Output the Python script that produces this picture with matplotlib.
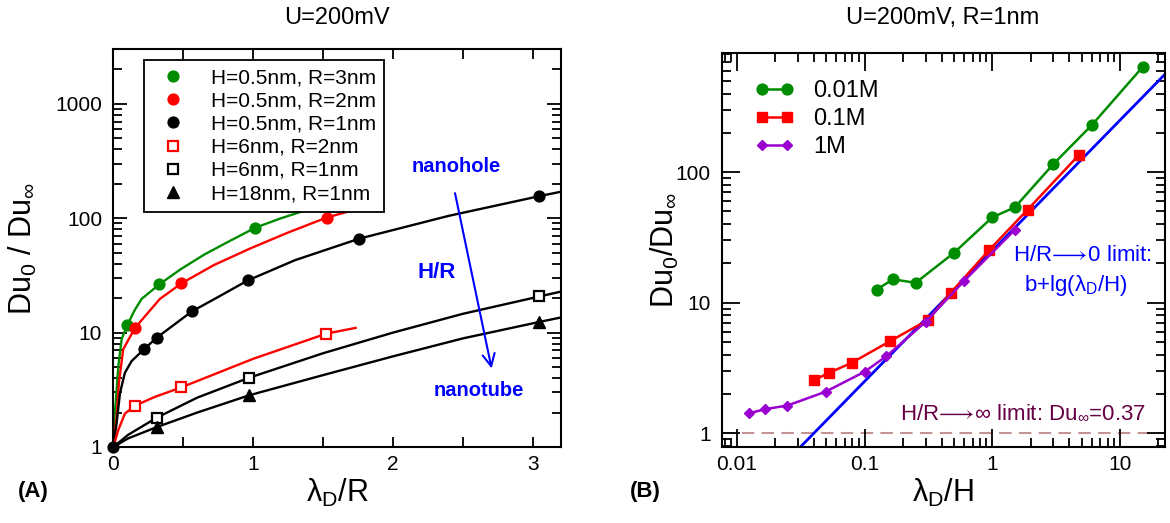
import matplotlib
matplotlib.use('Agg')
import matplotlib.pyplot as plt
from matplotlib.lines import Line2D
from matplotlib.ticker import FixedLocator, NullFormatter, LogLocator, FixedFormatter

plt.rcParams['font.family'] = ['Liberation Sans', 'DejaVu Sans']
plt.rcParams['mathtext.fontset'] = 'custom'
plt.rcParams['mathtext.rm'] = 'Liberation Sans'
plt.rcParams['mathtext.it'] = 'Liberation Sans:italic'
plt.rcParams['mathtext.bf'] = 'Liberation Sans:bold'
plt.rcParams['mathtext.fallback'] = 'stixsans'

# ---------------- Panel A data (lambda_D/R vs Du0/Duinf) ----------------
labels_A = ["H=0.5nm, R=3nm", "H=0.5nm, R=2nm", "H=0.5nm, R=1nm",
            "H=6nm, R=2nm", "H=6nm, R=1nm", "H=18nm, R=1nm"]

# symbols
g05r3_x = [0.10, 0.329, 1.017]
g05r3_y = [11.6, 26.4, 82.8]
r05r2_x = [0.155, 0.486, 1.526]
r05r2_y = [11.0, 26.9, 101.4]
b05r1_x = [0.0, 0.222, 0.309, 0.561, 0.962, 1.759, 3.047]
b05r1_y = [1.0, 7.2, 9.0, 15.3, 28.6, 66.3, 156.0]
r6r2_x = [0.155, 0.486, 1.524]
r6r2_y = [2.3, 3.32, 9.8]
b6r1_x = [0.309, 0.971, 3.047]
b6r1_y = [1.8, 4.03, 20.7]
b18r1_x = [0.309, 0.971, 3.047]
b18r1_y = [1.49, 2.83, 12.4]

# fitted curves
fit_g05r3_x = [0, 0.008, 0.019, 0.036, 0.060, 0.10, 0.15, 0.202, 0.329, 0.48, 0.65, 0.82, 1.017, 1.2, 1.4, 1.574, 1.8]
fit_g05r3_y = [1, 1.8, 2.6, 5.1, 8.8, 11.6, 15.5, 19.7, 26.4, 35.7, 48.1, 62.1, 82.8, 100, 120, 138, 165]
fit_r05r2_x = [0, 0.012, 0.024, 0.040, 0.071, 0.155, 0.333, 0.486, 0.72, 0.979, 1.25, 1.526, 1.92]
fit_r05r2_y = [1, 1.35, 1.85, 3.64, 7.16, 11.0, 19.7, 26.9, 39, 54.4, 75, 101.4, 138]
fit_b05r1_x = [0, 0.012, 0.024, 0.048, 0.083, 0.131, 0.222, 0.309, 0.561, 0.75, 0.962, 1.3, 1.759, 2.4, 3.047, 3.206]
fit_b05r1_y = [1, 1.3, 1.62, 2.97, 4.46, 5.64, 7.2, 9.0, 15.3, 20.5, 28.6, 43, 66.3, 105, 156, 171]
fit_r6r2_x = [0, 0.036, 0.083, 0.155, 0.3, 0.486, 1.0, 1.524, 1.733]
fit_r6r2_y = [1, 1.41, 1.96, 2.3, 2.75, 3.32, 5.9, 9.8, 11.0]
fit_b6r1_x = [0, 0.107, 0.309, 0.6, 0.971, 1.5, 2.0, 2.5, 3.047, 3.206]
fit_b6r1_y = [1, 1.28, 1.8, 2.7, 4.03, 6.6, 10.0, 14.6, 20.7, 22.9]
fit_b18r1_x = [0, 0.107, 0.309, 0.6, 0.971, 1.5, 2.0, 2.5, 3.047, 3.206]
fit_b18r1_y = [1, 1.19, 1.49, 2.0, 2.83, 4.25, 6.2, 8.9, 12.4, 13.6]

# ---------------- Panel B data (lambda_D/H) ----------------
labels_B = ["0.01M", "0.1M", "1M"]
c001_x = [0.124, 0.167, 0.251, 0.501, 1.0, 1.50, 3.0, 6.03, 15.0]
c001_y = [12.6, 15.1, 14.2, 24.1, 45.1, 53.7, 115, 230, 637]
c01_x = [0.040, 0.0525, 0.079, 0.158, 0.316, 0.472, 0.948, 1.89, 4.79]
c01_y = [2.55, 2.90, 3.46, 5.07, 7.42, 11.9, 25.4, 51.6, 136]
c1_x = [0.0124, 0.0166, 0.0248, 0.0494, 0.100, 0.148, 0.300, 0.598, 1.50]
c1_y = [1.42, 1.53, 1.63, 2.08, 2.96, 3.89, 7.12, 14.6, 36.1]
limit0_x = [0.03, 23.0]
limit0_y = [0.75, 575.0]
limit_inf_y = 1.0

GREEN = '#008c00'
RED = '#ff0000'
PURPLE = '#9a00d0'
BLUE = '#0000ff'

W, H = 1170, 523
fig = plt.figure(figsize=(W / 100, H / 100), dpi=100)
axA = fig.add_axes([113.3 / W, 1 - 447 / H, (560.7 - 113.3) / W, (447 - 49.3) / H])
axB = fig.add_axes([721.7 / W, 1 - 447 / H, (1165 - 721.7) / W, (447 - 53.3) / H])

# ---------------- Panel A ----------------
lw = 1.7
axA.plot(fit_g05r3_x, fit_g05r3_y, color=GREEN, lw=lw, zorder=2)
axA.plot(fit_r05r2_x, fit_r05r2_y, color=RED, lw=lw, zorder=2)
axA.plot(fit_b05r1_x, fit_b05r1_y, color='black', lw=lw, zorder=2)
axA.plot(fit_r6r2_x, fit_r6r2_y, color=RED, lw=lw, zorder=2)
axA.plot(fit_b6r1_x, fit_b6r1_y, color='black', lw=lw, zorder=2)
axA.plot(fit_b18r1_x, fit_b18r1_y, color='black', lw=lw, zorder=2)

ms_c = 7.8
styles = [
    dict(marker='o', color=GREEN, ms=ms_c, ls='none'),
    dict(marker='o', color=RED, ms=ms_c, ls='none'),
    dict(marker='o', color='black', ms=ms_c, ls='none'),
    dict(marker='s', mfc='white', mec=RED, ms=6.5, mew=1.6, ls='none'),
    dict(marker='s', mfc='white', mec='black', ms=6.5, mew=1.6, ls='none'),
    dict(marker='^', color='black', ms=8.5, ls='none'),
]
data_A = [(g05r3_x, g05r3_y), (r05r2_x, r05r2_y), (b05r1_x, b05r1_y),
          (r6r2_x, r6r2_y), (b6r1_x, b6r1_y), (b18r1_x, b18r1_y)]
for (xs, ys), st in zip(data_A, styles):
    axA.plot(xs, ys, zorder=3, clip_on=False, **st)

axA.set_yscale('log')
axA.set_xlim(0, 3.2)
axA.set_ylim(1, 3000)
axA.xaxis.set_major_locator(FixedLocator([0, 1, 2, 3]))
axA.xaxis.set_minor_locator(FixedLocator([0.5, 1.5, 2.5]))
axA.yaxis.set_major_locator(FixedLocator([1, 10, 100, 1000]))
axA.yaxis.set_major_formatter(FixedFormatter(['1', '10', '100', '1000']))
axA.yaxis.set_minor_locator(LogLocator(base=10, subs=range(2, 10), numticks=20))
axA.yaxis.set_minor_formatter(NullFormatter())
axA.tick_params(axis='both', which='both', direction='in', top=True, right=True, width=1.3)
axA.tick_params(axis='x', which='both', length=7.5, pad=6, labelsize=15)
axA.tick_params(axis='y', which='major', length=10, pad=8, labelsize=15)
axA.tick_params(axis='y', which='minor', length=6.5)
for s in axA.spines.values():
    s.set_linewidth(1.5)

handles = [Line2D([], [], **st) for st in styles]
legA = axA.legend(handles, labels_A, loc='upper left',
                  bbox_to_anchor=((143.7 - 113.3) / 447.4, (447 - 60) / 397.7),
                  borderaxespad=0, fontsize=15, frameon=True, fancybox=False,
                  edgecolor='black', framealpha=1, handlelength=2.0,
                  handletextpad=0.83, labelspacing=0.2, borderpad=0.4, numpoints=1)
legA.get_frame().set_linewidth(1.3)
legA.set_zorder(5)

axA.text(2.45, 281, 'nanohole', color=BLUE, fontweight='bold', fontsize=14.5, ha='center', va='center')
axA.text(2.315, 33.8, 'H/R', color=BLUE, fontweight='bold', fontsize=16, ha='center', va='center')
axA.text(2.615, 3.14, 'nanotube', color=BLUE, fontweight='bold', fontsize=14.5, ha='center', va='center')
axA.annotate('', xy=(2.71, 4.6), xytext=(2.44, 175),
             arrowprops=dict(arrowstyle='->', color=BLUE, lw=1.5, mutation_scale=22))

axA.set_xlabel(r'λ$_{\rm D}$/R', fontsize=22)
axA.set_ylabel(r'Du$_0$ / Du$_\infty$', fontsize=22)
axA.xaxis.set_label_coords(0.5, -0.075)
axA.yaxis.set_label_coords(-0.165, 0.5)

# ---------------- Panel B ----------------
axB.set_xscale('log')
axB.set_yscale('log')
axB.plot(limit0_x, limit0_y, color=BLUE, lw=2.0, zorder=2)
axB.axhline(limit_inf_y, color='#c49494', lw=1.5, ls=(0, (6, 3.5)), zorder=1)
axB.plot(c001_x, c001_y, '-o', color=GREEN, lw=1.8, ms=7.8, zorder=3, label=labels_B[0])
axB.plot(c01_x, c01_y, '-s', color=RED, lw=1.8, ms=7, zorder=3, label=labels_B[1])
axB.plot(c1_x, c1_y, '-D', color=PURPLE, lw=1.8, ms=5.5, zorder=3, label=labels_B[2])

axB.set_xlim(0.0076, 22.5)
axB.set_ylim(0.785, 813)
axB.xaxis.set_major_locator(FixedLocator([0.01, 0.1, 1, 10]))
axB.xaxis.set_major_formatter(FixedFormatter(['0.01', '0.1', '1', '10']))
axB.xaxis.set_minor_locator(LogLocator(base=10, subs=range(2, 10), numticks=20))
axB.xaxis.set_minor_formatter(NullFormatter())
axB.yaxis.set_major_locator(FixedLocator([1, 10, 100]))
axB.yaxis.set_major_formatter(FixedFormatter(['1', '10', '100']))
axB.yaxis.set_minor_locator(LogLocator(base=10, subs=range(2, 10), numticks=20))
axB.yaxis.set_minor_formatter(NullFormatter())
axB.tick_params(axis='both', which='both', direction='in', top=True, right=True, width=1.3)
axB.tick_params(axis='both', which='major', length=13, labelsize=15)
axB.tick_params(axis='both', which='minor', length=6.5)
axB.tick_params(axis='x', which='major', pad=6)
axB.tick_params(axis='y', which='major', pad=8)
for s in axB.spines.values():
    s.set_linewidth(1.5)

legB = axB.legend(loc='upper left', bbox_to_anchor=((754.7 - 721.7) / 443.3, (447 - 80) / 393.7),
                  borderaxespad=0, borderpad=0, frameon=False, fontsize=17,
                  handlelength=1.67, handletextpad=0.8, numpoints=2, labelspacing=0.26)

axB.text(5.08, 21.0, r'H/R$\!\longrightarrow\!$0 limit:', color=BLUE, fontsize=16, ha='center', va='baseline')
axB.text(4.52, 12.3, r'b+lg(λ$_{\rm D}$/H)', color=BLUE, fontsize=16, ha='center', va='baseline')
axB.text(15.96, 1.30, r'H/R$\!\longrightarrow\!\infty$ limit: Du$_\infty$=0.37', color='#660044', fontsize=16,
         ha='right', va='baseline')

axB.set_xlabel(r'λ$_{\rm D}$/H', fontsize=22)
axB.set_ylabel(r'Du$_0$/Du$_\infty$', fontsize=22)
axB.xaxis.set_label_coords(0.5, -0.075)
axB.yaxis.set_label_coords(-0.092, 0.5)

# titles and panel labels
fig.text(337 / W, 1 - 18 / H, 'U=200mV', fontsize=17, ha='center', va='center')
fig.text(943 / W, 1 - 18 / H, 'U=200mV, R=1nm', fontsize=17, ha='center', va='center')
fig.text(33 / W, 1 - 491 / H, '(A)', fontsize=16, fontweight='bold', ha='center', va='center')
fig.text(645 / W, 1 - 491 / H, '(B)', fontsize=16, fontweight='bold', ha='center', va='center')

fig.savefig('out.png', dpi=100)
